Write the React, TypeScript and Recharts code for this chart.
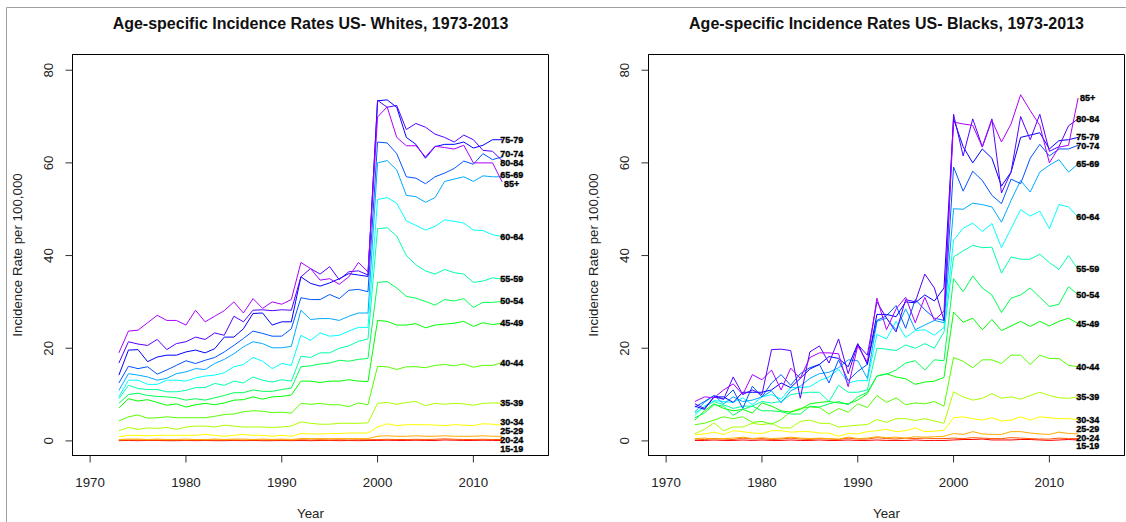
import { LineChart, Line, XAxis, YAxis, ReferenceDot, ReferenceArea } from 'recharts';

// Years on the x axis
const YEARS = [
  1973, 1974, 1975, 1976, 1977, 1978, 1979, 1980, 1981, 1982, 1983, 1984, 1985, 1986,
  1987, 1988, 1989, 1990, 1991, 1992, 1993, 1994, 1995, 1996, 1997, 1998, 1999, 2000,
  2001, 2002, 2003, 2004, 2005, 2006, 2007, 2008, 2009, 2010, 2011, 2012, 2013,
];

const AGE_GROUPS = [
  '15-19', '20-24', '25-29', '30-34', '35-39', '40-44', '45-49', '50-54',
  '55-59', '60-64', '65-69', '70-74', '75-79', '80-84', '85+',
];

// rainbow: red for the youngest group through violet for 85+
const COLORS = [
  '#ff0000', '#ff5500', '#ffaa00', '#ffff00', '#aaff00', '#55ff00', '#00ff00', '#00ff55',
  '#00ffaa', '#00ffff', '#00aaff', '#0055ff', '#0000ff', '#5500ff', '#aa00ff',
];

const X_TICKS = [1970, 1980, 1990, 2000, 2010];
const Y_TICKS = [0, 20, 40, 60, 80];

// Whites, rate per 100,000
const W_15_19 = [0.05, 0.1, 0.05, 0.1, 0.1, 0.05, 0.05, 0.1, 0.05, 0.1, 0.05, 0.05, 0.1, 0.05, 0.1, 0.05, 0.05, 0.1, 0.05, 0.1, 0.05, 0.1, 0.1, 0.05, 0.1, 0.05, 0.1, 0.1, 0.15, 0.1, 0.1, 0.15, 0.1, 0.1, 0.2, 0.15, 0.1, 0.1, 0.15, 0.1, 0.1];
const W_20_24 = [0.15, 0.2, 0.2, 0.15, 0.2, 0.15, 0.2, 0.15, 0.2, 0.15, 0.2, 0.2, 0.2, 0.15, 0.2, 0.2, 0.15, 0.2, 0.15, 0.25, 0.2, 0.25, 0.2, 0.25, 0.2, 0.25, 0.25, 0.3, 0.35, 0.3, 0.3, 0.35, 0.3, 0.35, 0.45, 0.35, 0.3, 0.3, 0.35, 0.3, 0.3];
const W_25_29 = [0.3, 0.4, 0.4, 0.3, 0.4, 0.3, 0.3, 0.4, 0.3, 0.3, 0.4, 0.3, 0.4, 0.4, 0.3, 0.4, 0.3, 0.4, 0.3, 0.5, 0.5, 0.5, 0.5, 0.5, 0.5, 0.5, 0.5, 1.0, 1.1, 1.0, 1.0, 1.1, 1.0, 1.0, 1.1, 1.0, 1.0, 1.0, 1.1, 1.0, 1.0];
const W_30_34 = [0.9, 1.2, 1.2, 1.1, 1.2, 1.2, 1.2, 1.2, 1.2, 1.4, 1.2, 1.0, 1.2, 1.4, 1.2, 1.2, 1.0, 1.2, 1.0, 1.6, 1.5, 1.5, 1.6, 1.6, 1.7, 1.7, 1.7, 3.0, 3.7, 3.3, 3.5, 3.5, 3.5, 3.4, 3.3, 3.5, 3.4, 3.3, 3.7, 3.6, 3.4];
const W_35_39 = [2.2, 2.9, 2.5, 2.8, 2.7, 2.9, 2.5, 3.0, 3.2, 3.2, 3.0, 3.4, 3.2, 3.0, 3.0, 3.0, 2.9, 3.0, 3.2, 4.1, 3.8, 3.6, 3.6, 3.8, 3.8, 3.8, 3.9, 8.1, 8.3, 7.9, 8.3, 8.5, 7.6, 8.1, 7.9, 8.1, 8.0, 7.7, 8.1, 8.2, 8.1];
const W_40_44 = [4.3, 5.2, 5.6, 4.9, 5.0, 5.2, 5.0, 5.0, 5.0, 5.0, 5.3, 5.7, 5.8, 6.3, 6.5, 6.4, 6.1, 6.2, 6.0, 8.1, 7.9, 8.1, 7.8, 7.8, 7.4, 8.2, 7.8, 16.1, 16.0, 15.4, 16.0, 16.0, 15.8, 16.3, 16.5, 16.2, 16.6, 15.9, 16.3, 16.3, 16.9];
const W_45_49 = [7.1, 9.1, 8.6, 8.9, 8.3, 7.7, 8.0, 7.3, 7.8, 8.1, 7.8, 8.2, 8.8, 8.9, 9.5, 9.0, 9.5, 9.6, 9.9, 12.9, 12.9, 12.6, 12.9, 12.9, 13.2, 12.9, 12.8, 26.0, 25.8, 25.0, 25.0, 25.3, 24.4, 25.0, 25.2, 25.4, 25.8, 24.7, 25.5, 25.1, 25.4];
const W_50_54 = [8.1, 10.0, 10.3, 9.8, 9.6, 9.5, 9.3, 8.8, 9.1, 8.8, 9.3, 9.8, 10.4, 10.4, 11.0, 10.7, 10.7, 11.1, 11.4, 16.0, 16.2, 16.6, 16.8, 17.4, 17.2, 17.6, 17.8, 34.2, 34.4, 33.0, 31.2, 30.8, 30.1, 29.3, 30.5, 30.2, 30.7, 28.8, 29.9, 29.9, 30.1];
const W_55_59 = [9.1, 12.0, 11.3, 11.1, 11.1, 10.6, 10.6, 10.9, 11.5, 11.5, 12.4, 12.0, 12.9, 12.5, 13.8, 13.1, 12.7, 13.2, 12.9, 18.3, 18.0, 19.0, 19.0, 20.0, 20.5, 21.5, 22.0, 45.8, 46.0, 44.2, 40.0, 38.0, 36.7, 36.0, 37.0, 36.3, 36.0, 34.2, 34.5, 35.2, 34.9];
const W_60_64 = [9.5, 13.1, 13.1, 12.2, 12.2, 13.1, 13.1, 12.9, 13.6, 14.0, 14.2, 14.7, 16.0, 16.5, 18.0, 17.2, 15.6, 16.7, 16.3, 22.8, 21.7, 23.3, 22.6, 22.8, 23.7, 24.5, 24.5, 52.1, 52.5, 51.3, 47.5, 46.5, 45.5, 46.3, 47.7, 47.4, 47.0, 45.5, 45.4, 44.5, 44.1];
const W_65_69 = [10.9, 14.5, 14.2, 13.8, 13.1, 13.5, 14.5, 14.9, 15.6, 15.4, 16.7, 17.6, 18.8, 20.3, 21.4, 21.0, 20.1, 20.1, 20.4, 28.2, 26.2, 26.4, 26.4, 26.0, 26.9, 27.6, 27.6, 60.0, 60.5, 58.5, 53.0, 52.7, 51.5, 52.5, 56.0, 56.5, 57.0, 56.0, 57.2, 57.0, 57.0];
const W_70_74 = [12.5, 16.1, 15.6, 16.0, 14.4, 15.3, 16.3, 17.3, 16.7, 17.4, 18.0, 19.2, 20.6, 22.1, 23.7, 23.2, 22.6, 22.6, 24.2, 30.9, 30.5, 30.5, 31.6, 30.7, 32.5, 32.7, 32.2, 64.5, 64.3, 62.0, 57.0, 56.7, 55.5, 57.0, 57.8, 58.8, 60.4, 59.7, 62.0, 60.7, 61.3];
const W_75_79 = [14.2, 19.6, 19.7, 17.1, 18.1, 18.5, 18.5, 19.2, 19.6, 19.0, 19.9, 22.4, 22.4, 24.2, 27.5, 27.6, 25.0, 25.7, 25.7, 35.4, 34.0, 33.4, 34.1, 35.0, 36.1, 35.8, 35.5, 73.4, 73.6, 72.0, 65.5, 64.0, 61.0, 63.5, 64.0, 64.0, 64.5, 63.2, 63.8, 65.0, 65.0];
const W_80_84 = [16.8, 21.4, 20.9, 20.6, 21.9, 19.7, 21.0, 21.4, 22.4, 21.9, 23.3, 22.8, 26.9, 25.7, 28.2, 28.3, 28.1, 28.3, 28.2, 35.4, 37.2, 36.0, 37.6, 34.8, 36.5, 36.7, 35.8, 73.5, 72.0, 72.4, 67.2, 68.5, 67.7, 66.2, 65.5, 64.5, 66.0, 65.0, 62.7, 62.5, 60.5];
const W_85 = [19.0, 23.7, 23.9, 25.5, 27.1, 26.0, 26.0, 25.0, 28.2, 25.7, 26.9, 28.1, 30.0, 27.6, 30.7, 28.6, 30.0, 29.5, 30.5, 38.5, 37.2, 34.7, 35.0, 33.8, 35.4, 38.5, 36.5, 69.9, 72.1, 65.5, 63.7, 63.7, 61.3, 63.6, 63.3, 63.0, 63.8, 60.0, 60.0, 60.0, 55.9];

// Blacks, rate per 100,000
const B_15_19 = [0.1, 0.1, 0.2, 0.1, 0.1, 0.2, 0.1, 0.2, 0.1, 0.1, 0.2, 0.1, 0.1, 0.2, 0.1, 0.1, 0.2, 0.1, 0.1, 0.2, 0.1, 0.1, 0.1, 0.2, 0.1, 0.1, 0.1, 0.2, 0.3, 0.3, 0.4, 0.2, 0.2, 0.2, 0.3, 0.3, 0.2, 0.1, 0.2, 0.3, 0.2];
const B_20_24 = [0.4, 0.3, 0.5, 0.4, 0.3, 0.6, 0.4, 0.5, 0.3, 0.4, 0.6, 0.4, 0.3, 0.5, 0.4, 0.3, 0.6, 0.4, 0.4, 0.7, 0.5, 0.4, 0.6, 0.5, 0.6, 0.5, 0.5, 0.6, 0.5, 0.7, 0.6, 0.5, 0.5, 0.7, 0.6, 0.5, 0.4, 0.4, 0.6, 0.5, 0.5];
const B_25_29 = [0.5, 0.6, 0.4, 0.5, 0.6, 0.8, 0.5, 0.7, 0.5, 0.6, 0.8, 0.6, 0.5, 0.6, 0.5, 0.4, 0.8, 0.5, 0.6, 0.9, 0.7, 0.8, 0.6, 0.9, 0.8, 0.9, 1.0, 1.6, 1.4, 2.0, 1.5, 1.4, 1.4, 2.0, 2.0, 1.7, 1.5, 1.4, 1.9, 1.6, 1.5];
const B_30_34 = [1.3, 1.5, 1.9, 1.4, 2.2, 2.0, 1.7, 1.6, 2.2, 2.2, 1.9, 2.0, 2.0, 1.7, 1.7, 1.0, 1.6, 1.5, 2.0, 2.2, 2.5, 2.0, 2.2, 2.8, 2.0, 2.1, 2.3, 5.0, 5.2, 4.8, 4.5, 5.0, 4.3, 4.5, 5.2, 4.5, 5.2, 5.0, 4.8, 4.8, 4.6];
const B_35_39 = [1.5, 2.5, 3.9, 2.2, 3.0, 3.0, 3.8, 3.5, 3.8, 2.8, 2.8, 4.2, 4.5, 3.8, 3.8, 3.0, 3.2, 3.4, 3.5, 4.6, 4.0, 4.8, 4.8, 4.4, 4.8, 4.3, 3.8, 10.6, 9.5, 8.8, 9.2, 10.2, 9.2, 9.5, 9.0, 9.8, 10.5, 9.8, 9.3, 9.2, 9.5];
const B_40_44 = [3.5, 3.8, 4.5, 5.2, 4.8, 5.2, 4.0, 4.2, 3.6, 4.6, 6.3, 7.0, 7.3, 7.2, 5.8, 7.0, 6.2, 8.0, 7.2, 9.8, 8.3, 9.3, 7.8, 8.2, 8.0, 8.5, 7.5, 18.0, 17.2, 15.8, 17.5, 17.5, 16.7, 18.5, 18.5, 16.5, 18.5, 17.8, 17.8, 16.3, 16.0];
const B_45_49 = [4.5, 6.5, 8.0, 7.0, 6.5, 6.8, 6.0, 8.2, 7.5, 6.5, 6.2, 6.8, 8.0, 8.3, 8.5, 8.2, 8.0, 8.8, 10.2, 14.0, 14.5, 13.8, 13.4, 12.2, 12.7, 12.9, 13.7, 27.8, 25.6, 26.5, 24.0, 26.2, 23.8, 24.8, 25.8, 24.7, 25.8, 24.8, 25.8, 26.5, 25.3];
const B_50_54 = [5.0, 6.0, 7.8, 7.5, 5.5, 6.8, 7.5, 6.5, 6.5, 6.3, 5.8, 5.8, 7.5, 7.3, 8.0, 8.5, 7.8, 9.5, 10.5, 14.0, 14.4, 15.3, 16.8, 17.3, 15.3, 17.5, 17.3, 35.0, 32.2, 35.6, 33.0, 31.5, 27.7, 30.8, 31.5, 33.0, 31.0, 29.0, 29.5, 33.3, 31.5];
const B_55_59 = [6.0, 7.3, 8.5, 7.8, 7.0, 7.5, 7.5, 8.5, 8.2, 8.5, 10.0, 10.3, 10.5, 10.5, 8.5, 12.0, 10.5, 10.5, 11.0, 20.0, 19.8, 19.5, 20.7, 20.0, 21.0, 20.0, 23.5, 39.7, 41.0, 42.2, 41.7, 41.8, 36.2, 39.7, 39.2, 39.2, 40.3, 38.5, 37.0, 40.0, 37.0];
const B_60_64 = [5.5, 7.5, 8.7, 8.5, 8.3, 9.3, 7.8, 9.5, 10.0, 9.0, 11.5, 11.5, 11.7, 13.0, 13.8, 15.5, 12.5, 13.0, 13.0, 23.0, 22.0, 25.8, 22.3, 23.8, 24.0, 22.8, 24.5, 43.3, 45.9, 47.0, 45.2, 46.9, 41.7, 45.8, 49.9, 48.5, 49.6, 45.8, 51.0, 50.5, 48.3];
const B_65_69 = [6.3, 8.3, 9.8, 8.0, 9.5, 8.5, 8.8, 9.5, 10.8, 8.2, 10.8, 11.8, 13.5, 14.5, 14.8, 15.8, 17.5, 17.3, 13.5, 25.8, 26.5, 24.0, 28.5, 24.0, 25.0, 26.0, 25.5, 50.1, 50.0, 51.3, 51.0, 50.5, 47.2, 51.9, 56.2, 53.7, 58.0, 59.5, 60.7, 58.0, 59.8];
const B_70_74 = [7.3, 8.5, 9.8, 9.0, 11.0, 7.0, 11.8, 9.5, 12.5, 14.3, 12.0, 14.5, 15.8, 16.5, 12.5, 17.5, 13.0, 15.0, 16.5, 26.0, 27.0, 29.2, 24.3, 30.5, 28.3, 26.5, 26.0, 59.1, 53.9, 58.2, 56.2, 53.0, 51.2, 56.5, 55.5, 61.0, 64.0, 61.5, 63.0, 63.0, 63.8];
const B_75_79 = [7.5, 6.8, 9.5, 9.5, 8.3, 10.5, 10.5, 10.5, 11.0, 12.5, 11.5, 13.5, 15.5, 16.5, 18.2, 17.8, 16.0, 21.0, 16.5, 27.3, 27.3, 26.8, 30.0, 29.8, 31.5, 30.2, 33.0, 69.5, 63.5, 60.0, 63.0, 61.0, 55.0, 58.0, 65.5, 66.0, 66.5, 63.0, 64.8, 65.0, 65.5];
const B_80_84 = [8.0, 7.0, 9.5, 9.0, 13.8, 10.0, 11.0, 10.0, 19.7, 19.8, 19.5, 9.2, 19.2, 20.5, 16.8, 22.0, 14.5, 20.8, 18.5, 30.0, 26.5, 23.5, 30.5, 30.0, 36.0, 33.0, 26.0, 70.5, 61.5, 69.5, 63.5, 69.5, 53.5, 58.0, 70.0, 65.0, 70.5, 62.5, 63.5, 68.0, 69.5];
const B_85 = [8.5, 9.5, 9.3, 11.0, 12.3, 10.0, 14.3, 13.2, 15.3, 11.0, 15.7, 13.5, 18.0, 19.0, 19.0, 18.8, 11.7, 20.5, 17.0, 30.8, 24.0, 28.5, 31.0, 25.5, 31.0, 26.0, 28.0, 68.8, 68.4, 68.1, 63.4, 69.2, 64.5, 68.4, 74.7, 71.3, 68.1, 60.0, 63.4, 63.8, 74.0];

const WHITES = [W_15_19, W_20_24, W_25_29, W_30_34, W_35_39, W_40_44, W_45_49, W_50_54, W_55_59, W_60_64, W_65_69, W_70_74, W_75_79, W_80_84, W_85];
const BLACKS = [B_15_19, B_20_24, B_25_29, B_30_34, B_35_39, B_40_44, B_45_49, B_50_54, B_55_59, B_60_64, B_65_69, B_70_74, B_75_79, B_80_84, B_85];

const FONT = '"Liberation Sans", Arial, Helvetica, sans-serif';
const CHART_HEIGHT = 522;
const PLOT_TOP = 54.5;
const PLOT_BOTTOM = 455.5;
// R pads the axis range by 4% on each side
const X_DOMAIN: [number, number] = [1968.16, 2017.84];
const Y_DOMAIN: [number, number] = [-3.15, 83.39];
const LABEL_GAP = 1.9;

// push end labels apart so they don't sit on top of each other
function spreadLabels(values: number[], gap: number): number[] {
  const order = values.map((_, i) => i).sort((a, b) => values[a] - values[b]);
  const clusters: { idx: number[]; center: number }[] = [];
  for (const i of order) {
    clusters.push({ idx: [i], center: values[i] });
    while (clusters.length > 1) {
      const b = clusters[clusters.length - 1];
      const a = clusters[clusters.length - 2];
      const aTop = a.center + ((a.idx.length - 1) * gap) / 2;
      const bBottom = b.center - ((b.idx.length - 1) * gap) / 2;
      if (bBottom - aTop >= gap) break;
      const idx = [...a.idx, ...b.idx];
      const center = idx.reduce((s, k) => s + values[k], 0) / idx.length;
      clusters.splice(-2, 2, { idx, center });
    }
  }
  const out: number[] = new Array(values.length);
  clusters.forEach((c) => {
    c.idx.forEach((k, j) => {
      out[k] = c.center + (j - (c.idx.length - 1) / 2) * gap;
    });
  });
  return out;
}

const XTick = ({ x, y, payload }: any) => (
  <text x={x} y={y + 24.3} textAnchor="middle" fontSize={13.3} fontFamily={FONT} fill="#222">
    {payload.value}
  </text>
);

const YTick = ({ x, y, payload }: any) => (
  <text
    x={x - 17}
    y={y}
    transform={`rotate(-90, ${x - 17}, ${y})`}
    textAnchor="middle"
    dominantBaseline="central"
    fontSize={13.3}
    fontFamily={FONT}
    fill="#222"
  >
    {payload.value}
  </text>
);

interface PanelProps {
  title: string;
  series: number[][];
  left: number;
  width: number;
  axisWidth: number;
  rightMargin: number;
}

function Panel({ title, series, left, width, axisWidth, rightMargin }: PanelProps) {
  const rows = YEARS.map((year, i) => {
    const row: Record<string, number> = { year };
    series.forEach((s, k) => {
      row[`s${k}`] = s[i];
    });
    return row;
  });
  const labelY = spreadLabels(series.map((s) => s[s.length - 1]), LABEL_GAP);
  const labelYear = YEARS[YEARS.length - 1] + 1;
  const centerX = (axisWidth + width - rightMargin) / 2;
  const centerY = (PLOT_TOP + PLOT_BOTTOM) / 2;

  return (
    <div style={{ position: 'absolute', left, top: 0, width, height: CHART_HEIGHT }}>
      <LineChart
        width={width}
        height={CHART_HEIGHT}
        data={rows}
        margin={{ top: PLOT_TOP, right: rightMargin, bottom: 0, left: 0 }}
      >
        <XAxis
          dataKey="year"
          type="number"
          domain={X_DOMAIN}
          ticks={X_TICKS}
          interval={0}
          allowDataOverflow
          height={CHART_HEIGHT - PLOT_BOTTOM}
          tickSize={7}
          tickMargin={0}
          tick={XTick}
          axisLine={{ stroke: '#000' }}
          tickLine={{ stroke: '#333' }}
        />
        <YAxis
          type="number"
          domain={Y_DOMAIN}
          ticks={Y_TICKS}
          interval={0}
          allowDataOverflow
          width={axisWidth}
          tickSize={7}
          tickMargin={0}
          tick={YTick}
          axisLine={{ stroke: '#000' }}
          tickLine={{ stroke: '#333' }}
        />
        {/* the box round the plot region */}
        <ReferenceArea
          x1={X_DOMAIN[0]}
          x2={X_DOMAIN[1]}
          y1={Y_DOMAIN[0]}
          y2={Y_DOMAIN[1]}
          fill="none"
          fillOpacity={0}
          stroke="#000"
          strokeWidth={1}
          ifOverflow="visible"
        />
        {series.map((_, k) => (
          <Line
            key={AGE_GROUPS[k]}
            type="linear"
            dataKey={`s${k}`}
            stroke={COLORS[k]}
            strokeWidth={1}
            dot={false}
            activeDot={false}
            isAnimationActive={false}
          />
        ))}
        {AGE_GROUPS.map((g, k) => (
          <ReferenceDot
            key={g}
            x={labelYear}
            y={labelY[k]}
            r={0}
            ifOverflow="visible"
            shape={(p: any) => (
              <text
                x={p.cx}
                y={p.cy}
                textAnchor="middle"
                dominantBaseline="central"
                fontSize={9}
                fontWeight="bold"
                fontFamily={FONT}
                fill="#000"
                stroke="#000"
                strokeWidth={0.35}
              >
                {g}
              </text>
            )}
          />
        ))}
      </LineChart>
      <svg
        width={width}
        height={CHART_HEIGHT}
        style={{ position: 'absolute', left: 0, top: 0, pointerEvents: 'none' }}
      >
        <text x={centerX} y={29} textAnchor="middle" fontSize={16} fontWeight="bold" fontFamily={FONT} fill="#111">
          {title}
        </text>
        <text
          x={axisWidth - 55}
          y={centerY}
          transform={`rotate(-90, ${axisWidth - 55}, ${centerY})`}
          textAnchor="middle"
          dominantBaseline="central"
          fontSize={13.3}
          fontFamily={FONT}
          fill="#222"
        >
          Incidence Rate per 100,000
        </text>
        <text x={centerX} y={518} textAnchor="middle" fontSize={13.3} fontFamily={FONT} fill="#222">
          Year
        </text>
      </svg>
    </div>
  );
}

export default function App() {
  return (
    <div style={{ position: 'absolute', left: 0, top: 0, width: 1126, height: 522, background: '#fff', overflow: 'hidden' }}>
      <Panel
        title="Age-specific Incidence Rates US- Whites, 1973-2013"
        series={WHITES}
        left={0}
        width={560}
        axisWidth={72.5}
        rightMargin={11.5}
      />
      <Panel
        title="Age-specific Incidence Rates US- Blacks, 1973-2013"
        series={BLACKS}
        left={560}
        width={566}
        axisWidth={88.5}
        rightMargin={1.5}
      />
      <svg width={1126} height={522} style={{ position: 'absolute', left: 0, top: 0, pointerEvents: 'none' }}>
        <line x1={6.5} y1={7.5} x2={1126} y2={7.5} stroke="#a0a0a0" strokeWidth={1} />
        <line x1={6.5} y1={7.5} x2={6.5} y2={522} stroke="#a0a0a0" strokeWidth={1} />
      </svg>
    </div>
  );
}
